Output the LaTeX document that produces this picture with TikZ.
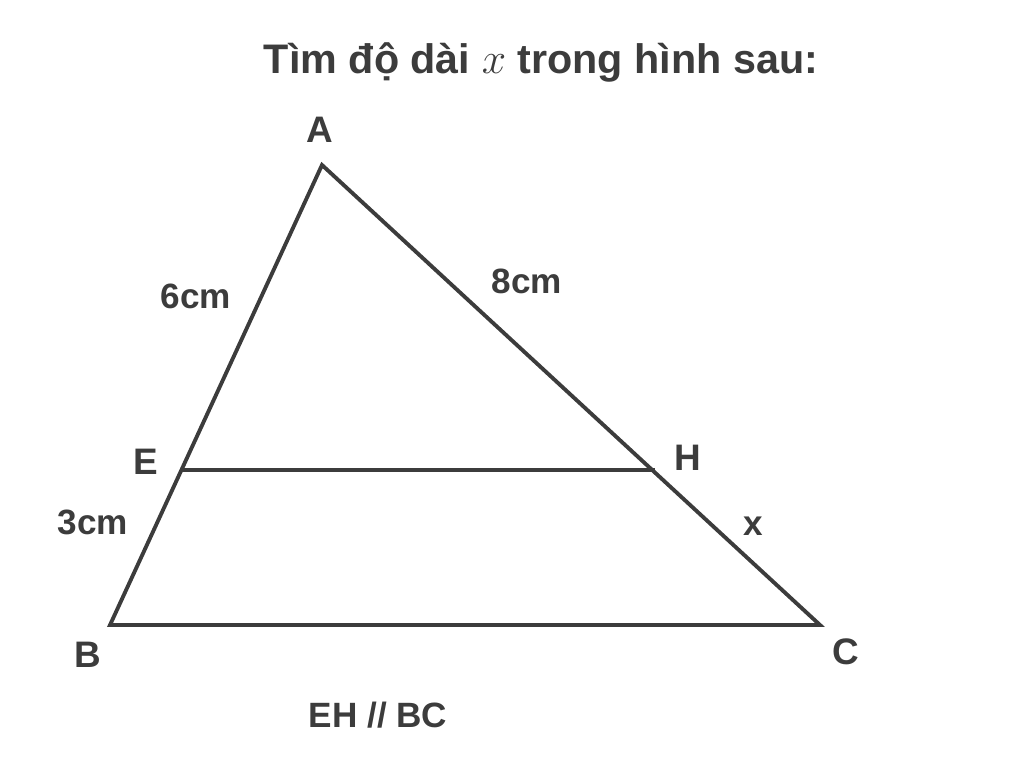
\documentclass[tikz,border=0pt]{standalone}
\usepackage{fontspec}
\setmainfont{Liberation Sans}
\definecolor{inkgray}{RGB}{60,60,60}
\tikzset{
    side/.style={line width=2.2pt, draw=inkgray},
    vlabel/.style={font=\bfseries\fontsize{21}{24}\selectfont, text=inkgray, inner sep=0pt},
    lenlabel/.style={font=\bfseries\fontsize{20}{24}\selectfont, text=inkgray, inner sep=0pt}
}
\begin{document}
\begin{tikzpicture}[x=0.02cm, y=-0.02cm]
    \useasboundingbox (0,0) rectangle (1024,784);
    \node[font=\bfseries\fontsize{23.5}{28}\selectfont, text=inkgray, inner sep=0pt] (title) at (541,62) {Tìm độ dài $x$ trong hình sau:};
    % triangle vertices
    \coordinate (A) at (322,165);
    \coordinate (E) at (180,470);
    \coordinate (H) at (655,470);
    \coordinate (B) at (110,625);
    \coordinate (C) at (820,625);
    \draw[side] (A) -- (B) -- (C) -- cycle;
    \draw[side] (E) -- (H);
    % labels
    \node[vlabel] (lA) at (320,130) {A};
    \node[vlabel] (lE) at (146,462) {E};
    \node[vlabel] (lH) at (688,458) {H};
    \node[vlabel] (lB) at (88,655) {B};
    \node[vlabel] (lC) at (846,652) {C};
    \node[lenlabel] (lAE) at (196,296) {6cm};
    \node[lenlabel] (lAH) at (527,281) {8cm};
    \node[lenlabel] (lEB) at (93,522) {3cm};
    \node[lenlabel] (lHC) at (753,526) {x};
    \node[lenlabel] (note) at (378,715) {EH // BC};
\end{tikzpicture}
\end{document}
